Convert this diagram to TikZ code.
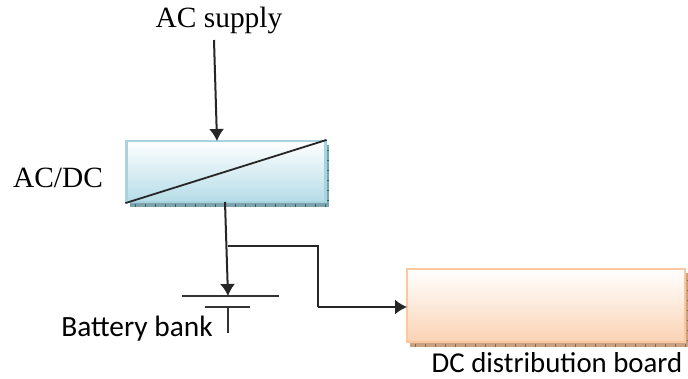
\documentclass[tikz,border=0pt]{standalone}
\usepackage{fontspec}
\setmainfont{Liberation Serif}
\newfontfamily\labelfont{Carlito}
\usetikzlibrary{arrows.meta}
\definecolor{ColorBlue}{HTML}{A6D5E1}
\definecolor{ColorBlueDark}{HTML}{B5DCE7}
\definecolor{ColorBlueShadow}{HTML}{7FA3AD}
\definecolor{ColorOrange}{HTML}{FAC7A0}
\definecolor{ColorOrangeDark}{HTML}{FAD3B5}
\definecolor{ColorOrangeShadow}{HTML}{C9A283}
\tikzset{
    wire/.style={line width=2pt,black!85},
    arrowwire/.style={wire,-{Latex[length=12pt,width=15pt]}},
    plate/.style={line width=1.8pt,black!80},
    bluebox/.style={draw=ColorBlue,line width=2.2pt,top color=white,bottom color=ColorBlueDark,minimum width=199pt,minimum height=61pt,inner sep=0pt},
    orangebox/.style={draw=ColorOrange,line width=2.2pt,top color=white,bottom color=ColorOrangeDark,minimum width=278pt,minimum height=73pt,inner sep=0pt},
    serifnote/.style={font=\fontsize{29.4}{32}\selectfont,inner sep=0pt},
    sansnote/.style={font=\labelfont\fontsize{29.4}{32}\selectfont,inner sep=0pt},
    boardnote/.style={font=\labelfont\fontsize{28.8}{30}\selectfont,inner sep=0pt}
}
\begin{document}
\begin{tikzpicture}[x=1pt,y=-1pt]
    \useasboundingbox (0,0) rectangle (688,378);
    %Shadows
    \fill[ColorBlueShadow] (130,145) rectangle (329,206.5);
    \fill[ColorOrangeShadow] (410,273) rectangle (688,346.5);
    \foreach \x in {135,145,...,325}
        \draw[black!45!ColorBlueShadow,line width=0.5pt] (\x,204)--(\x,206.5);
    \foreach \y in {150,160,...,200}
        \draw[black!45!ColorBlueShadow,line width=0.5pt] (327,\y)--(329,\y);
    \foreach \x in {415,425,...,685}
        \draw[black!35!ColorOrangeShadow,line width=0.5pt] (\x,344)--(\x,346.5);
    \foreach \y in {280,290,...,340}
        \draw[black!35!ColorOrangeShadow,line width=0.5pt] (686.5,\y)--(688,\y);
    %Boxes
    \node[bluebox] (converter) at (226,171.5) {};
    \node[orangebox] (board) at (546,305.5) {};
    \draw[line width=1.8pt,black!85] (converter.south west)--(converter.north east);
    %Labels
    \node[serifnote] (supply) at (219,20) {AC supply};
    \node[serifnote] (acdc) at (58,178) {AC/DC};
    \node[sansnote] (battery) at (137,329) {Battery bank};
    \node[boardnote] (boardname) at (557,363) {DC distribution board};
    %Battery
    \coordinate (platetop) at (228,296);
    \coordinate (platelow) at (228,307);
    \coordinate (stemend) at (228,333);
    \draw[plate] (182,296)--(platetop)--(279,296);
    \draw[plate] (205,307)--(platelow)--(250,307);
    \draw[plate] (platelow)--(stemend);
    %Wires
    \coordinate (supplyend) at (214,40);
    \coordinate (supplyhit) at (217,141);
    \coordinate (outstart) at (225,202);
    \coordinate (branch) at (227.5,246);
    \coordinate (bend) at (318,246);
    \coordinate (boardturn) at (318,307);
    \coordinate (boardhit) at (407,307);
    \draw[arrowwire] (supplyend)--(supplyhit);
    \draw[arrowwire] (outstart)--(platetop);
    \draw[wire] (branch)--(bend)--(boardturn);
    \draw[arrowwire] (boardturn)--(boardhit);
\end{tikzpicture}
\end{document}
